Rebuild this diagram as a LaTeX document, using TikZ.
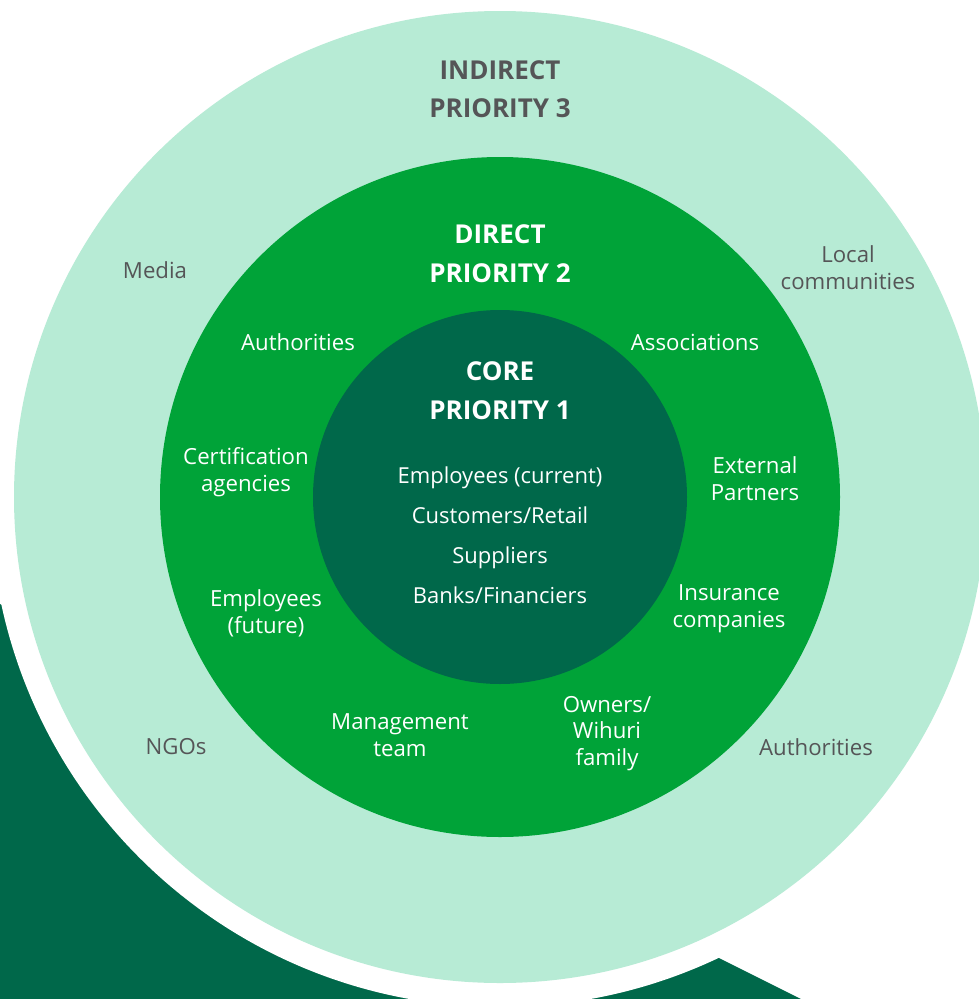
\documentclass[tikz,border=0pt]{standalone}
\usepackage{fontspec}
\setmainfont{Open Sans}
\definecolor{mint}{HTML}{B7EBD5}
\definecolor{midgreen}{HTML}{00A338}
\definecolor{darkgreen}{HTML}{00684A}
\definecolor{greytxt}{HTML}{555557}
\tikzset{
  ringlabel/.style={align=center, inner sep=0pt, font=\fontsize{22.2}{26.8}\selectfont},
  outerlabel/.style={ringlabel, text=greytxt},
  innerlabel/.style={ringlabel, text=white},
  titleouter/.style={align=center, inner sep=0pt, text=greytxt, font=\fontsize{26}{38.5}\selectfont\bfseries},
  titleinner/.style={align=center, inner sep=0pt, text=white, font=\fontsize{26}{38.5}\selectfont\bfseries},
  listlabel/.style={align=center, inner sep=0pt, text=white, font=\fontsize{22}{40}\selectfont}
}
\begin{document}
\begin{tikzpicture}[x=1pt,y=-1pt]
\useasboundingbox (0,0) rectangle (979,999);
\begin{scope}
\clip (0,0) rectangle (979,999);
% dark background shape
\fill[darkgreen] (0,604) -- (719,958) -- (845,1021) -- (-20,1021) -- (-20,604) -- cycle;
% white ring
\fill[white] (500,497) circle (510pt);
% circles
\fill[mint] (500,497) circle (486pt);
\fill[midgreen] (500,497) circle (340pt);
\fill[darkgreen] (500,497) circle (187pt);
\end{scope}
% titles
\node[titleouter] (t3) at (500,89) {INDIRECT\\PRIORITY 3};
\node[titleinner] (t2) at (500,253.5) {DIRECT\\PRIORITY 2};
\node[titleinner] (t1) at (500,390.5) {CORE\\PRIORITY 1};
% core list
\node[listlabel] (core) at (500,535) {Employees (current)\\Customers/Retail\\Suppliers\\Banks/Financiers};
% outer ring
\node[outerlabel] (media) at (155,270) {Media};
\node[outerlabel] (local) at (848,268) {Local\\communities};
\node[outerlabel] (ngos) at (176,747) {NGOs};
\node[outerlabel] (auth3) at (816,747) {Authorities};
% middle ring
\node[innerlabel] (auth2) at (298,342) {Authorities};
\node[innerlabel] (assoc) at (695,342) {Associations};
\node[innerlabel] (cert) at (246,472) {Certification\\agencies};
\node[innerlabel] (ext) at (755,478.5) {External\\Partners};
\node[innerlabel] (empf) at (266,613.5) {Employees\\(future)};
\node[innerlabel] (ins) at (729,609) {Insurance\\companies};
\node[innerlabel] (mgmt) at (400,735.5) {Management\\team};
\node[innerlabel] (own) at (607,733.5) {Owners/\\Wihuri\\family};
\end{tikzpicture}
\end{document}
